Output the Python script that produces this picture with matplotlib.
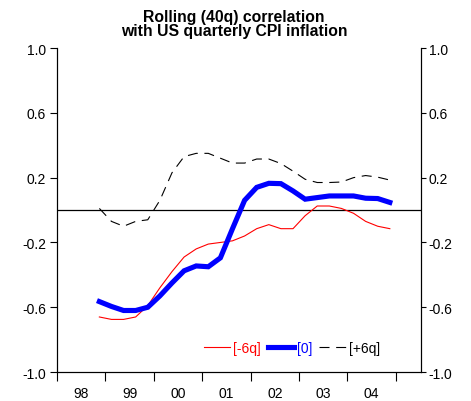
import matplotlib
matplotlib.use('Agg')
import matplotlib.pyplot as plt
from matplotlib.ticker import FixedLocator, NullFormatter, FixedFormatter

plt.rcParams['font.family'] = ['Liberation Sans', 'DejaVu Sans']
plt.rcParams['axes.unicode_minus'] = False

# quarterly observations, 1998Q4 .. 2004Q4 (plotted at mid-quarter)
quarters = [1998.875 + 0.25 * i for i in range(25)]

corr_lag6 = [-0.66, -0.675, -0.675, -0.66, -0.59, -0.48, -0.38, -0.29, -0.24,
             -0.21, -0.20, -0.19, -0.16, -0.115, -0.09, -0.115, -0.115, -0.035,
             0.025, 0.025, 0.01, -0.02, -0.07, -0.10, -0.115]
corr_0 = [-0.565, -0.595, -0.62, -0.62, -0.60, -0.53, -0.45, -0.375, -0.345,
          -0.35, -0.295, -0.115, 0.06, 0.14, 0.165, 0.163, 0.118, 0.067,
          0.077, 0.087, 0.087, 0.087, 0.073, 0.071, 0.047]
corr_lead6 = [0.01, -0.07, -0.10, -0.07, -0.06, 0.06, 0.23, 0.33, 0.35, 0.35,
              0.32, 0.29, 0.29, 0.315, 0.315, 0.287, 0.24, 0.19, 0.17, 0.17,
              0.173, 0.20, 0.213, 0.203, 0.185]

years = [1998, 1999, 2000, 2001, 2002, 2003, 2004, 2005]
year_labels = ['98', '99', '00', '01', '02', '03', '04']
yticks = [-1.0, -0.6, -0.2, 0.2, 0.6, 1.0]

fig = plt.figure(figsize=(4.71, 4.02), dpi=100)
ax = fig.add_axes([0.121, 0.072, 0.773, 0.806])

ax.axhline(0, color='black', linewidth=0.9)
ax.plot(quarters, corr_lag6, color='red', linewidth=0.8, label='[-6q]')
ax.plot(quarters, corr_0, color='blue', linewidth=3.7, label='[0]',
        solid_joinstyle='miter')
l3, = ax.plot(quarters, corr_lead6, color='black', linewidth=0.8,
              label='[+6q]')
l3.set_dashes((9, 6))

ax.set_xlim(1998, 2005.52)
ax.set_ylim(-1.0, 1.0)

ax.xaxis.set_major_locator(FixedLocator(years))
ax.xaxis.set_major_formatter(NullFormatter())
ax.xaxis.set_minor_locator(FixedLocator([y + 0.5 for y in years[:-1]]))
ax.xaxis.set_minor_formatter(FixedFormatter(year_labels))
ax.tick_params(axis='x', which='major', direction='out', length=6.5,
               width=0.8)
ax.tick_params(axis='x', which='minor', length=0, pad=10, labelsize=10)

ax.set_yticks(yticks)
ax.set_yticklabels(['%.1f' % v for v in yticks])
ax.tick_params(axis='y', direction='out', length=5, width=0.8, pad=3,
               labelsize=10)

ax2 = ax.twinx()
ax2.set_ylim(-1.0, 1.0)
ax2.set_yticks(yticks)
ax2.set_yticklabels(['%.1f' % v for v in yticks])
ax2.tick_params(axis='y', direction='out', length=3.5, width=0.8, pad=2,
                labelsize=10)

for a in (ax, ax2):
    a.spines['top'].set_visible(False)
    for s in a.spines.values():
        s.set_linewidth(0.8)

leg = ax.legend(loc='center', bbox_to_anchor=(0.645, 0.075), ncol=3,
                frameon=False, fontsize=10, handlelength=1.9,
                handletextpad=0.2, columnspacing=0.5)
for txt, col in zip(leg.get_texts(), ['red', 'blue', 'black']):
    txt.set_color(col)

fig.text(0.497, 0.975, 'Rolling (40q) correlation\nwith US quarterly CPI inflation',
         ha='center', va='top', fontsize=11.3, fontweight='bold',
         linespacing=0.95)

fig.savefig('out.png', dpi=100)
